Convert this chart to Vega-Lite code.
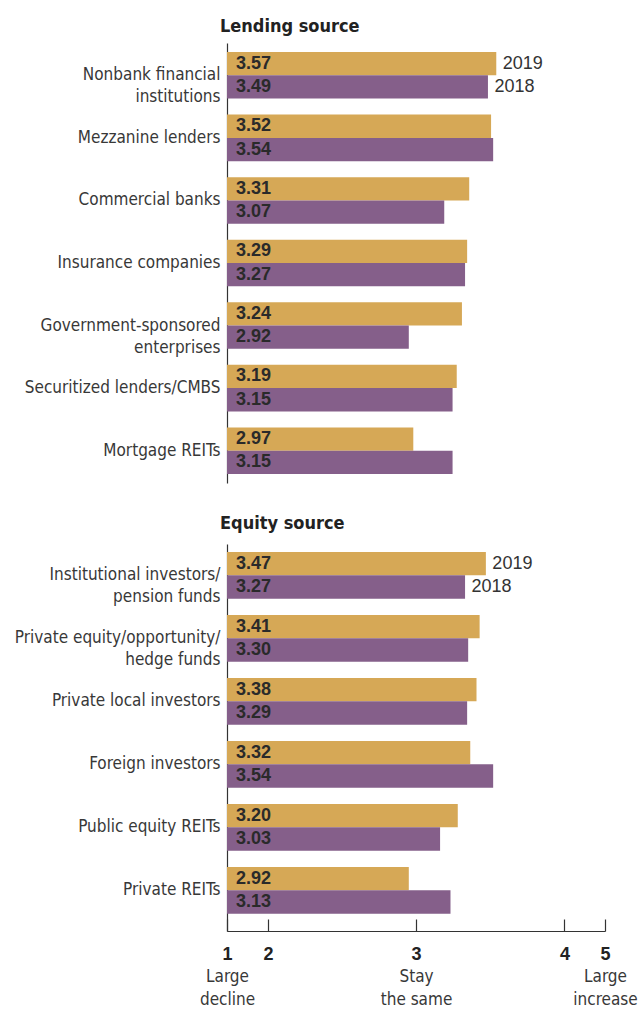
{
  "$schema": "https://vega.github.io/schema/vega-lite/v6.json",
  "background": "white",
  "padding": {"left": 7, "top": 18, "right": 0, "bottom": 0},
  "data": {"values": [
    {"section": "Lending", "source": "Nonbank financial|institutions", "year": "2019", "value": 3.57},
    {"section": "Lending", "source": "Nonbank financial|institutions", "year": "2018", "value": 3.49},
    {"section": "Lending", "source": "Mezzanine lenders", "year": "2019", "value": 3.52},
    {"section": "Lending", "source": "Mezzanine lenders", "year": "2018", "value": 3.54},
    {"section": "Lending", "source": "Commercial banks", "year": "2019", "value": 3.31},
    {"section": "Lending", "source": "Commercial banks", "year": "2018", "value": 3.07},
    {"section": "Lending", "source": "Insurance companies", "year": "2019", "value": 3.29},
    {"section": "Lending", "source": "Insurance companies", "year": "2018", "value": 3.27},
    {"section": "Lending", "source": "Government-sponsored|enterprises", "year": "2019", "value": 3.24},
    {"section": "Lending", "source": "Government-sponsored|enterprises", "year": "2018", "value": 2.92},
    {"section": "Lending", "source": "Securitized lenders/CMBS", "year": "2019", "value": 3.19},
    {"section": "Lending", "source": "Securitized lenders/CMBS", "year": "2018", "value": 3.15},
    {"section": "Lending", "source": "Mortgage REITs", "year": "2019", "value": 2.97},
    {"section": "Lending", "source": "Mortgage REITs", "year": "2018", "value": 3.15},
    {"section": "Equity", "source": "Institutional investors/|pension funds", "year": "2019", "value": 3.47},
    {"section": "Equity", "source": "Institutional investors/|pension funds", "year": "2018", "value": 3.27},
    {"section": "Equity", "source": "Private equity/opportunity/|hedge funds", "year": "2019", "value": 3.41},
    {"section": "Equity", "source": "Private equity/opportunity/|hedge funds", "year": "2018", "value": 3.30},
    {"section": "Equity", "source": "Private local investors", "year": "2019", "value": 3.38},
    {"section": "Equity", "source": "Private local investors", "year": "2018", "value": 3.29},
    {"section": "Equity", "source": "Foreign investors", "year": "2019", "value": 3.32},
    {"section": "Equity", "source": "Foreign investors", "year": "2018", "value": 3.54},
    {"section": "Equity", "source": "Public equity REITs", "year": "2019", "value": 3.20},
    {"section": "Equity", "source": "Public equity REITs", "year": "2018", "value": 3.03},
    {"section": "Equity", "source": "Private REITs", "year": "2019", "value": 2.92},
    {"section": "Equity", "source": "Private REITs", "year": "2018", "value": 3.13}
  ]},
  "config": {
    "view": {"stroke": null},
    "font": "DejaVu Sans Condensed, Roboto, sans-serif",
    "title": {"font": "DejaVu Sans Condensed, Roboto, sans-serif", "fontSize": 18, "fontWeight": "bold", "color": "#222222", "anchor": "start", "frame": "group", "align": "right", "dx": -7, "baseline": "alphabetic"},
    "axisY": {"ticks": false, "domain": true, "domainColor": "#333333", "domainWidth": 1.2, "labelFont": "DejaVu Sans Condensed, Roboto, sans-serif", "labelFontSize": 17, "labelColor": "#383838", "labelLineHeight": 22, "labelPadding": 7, "labelLimit": 400, "minExtent": 220, "maxExtent": 220, "labelBaseline": "middle"}
  },
  "spacing": 32,
  "vconcat": [
    {
      "title": {"text": "Lending source", "offset": 7},
      "width": 378,
      "height": 440,
      "transform": [{"filter": "datum.section == 'Lending'"}],
      "encoding": {
        "y": {"field": "source", "type": "nominal", "sort": null, "title": null, "scale": {"paddingInner": 0.255, "paddingOuter": 0.144}, "axis": {"labelExpr": "split(datum.label, '|')"}},
        "yOffset": {"field": "year", "type": "nominal", "sort": ["2019", "2018"], "scale": {"paddingInner": 0, "paddingOuter": 0}}
      },
      "layer": [
        {
          "mark": {"type": "bar"},
          "encoding": {
            "x": {"field": "value", "type": "quantitative", "axis": null, "scale": {"domain": [1, 2, 2.9, 3, 3.01, 3.6, 4, 5], "range": [0, 41, 180, 189, 211, 272.4, 337.4, 378], "zero": false, "nice": false}},
            "x2": {"datum": 1},
            "color": {"field": "year", "type": "nominal", "scale": {"domain": ["2019", "2018"], "range": ["#D6A856", "#855F8A"]}, "legend": null}
          }
        },
        {
          "mark": {"type": "text", "align": "left", "baseline": "middle", "dx": 9, "font": "Liberation Sans", "fontWeight": "bold", "fontSize": 18, "color": "#2a2a2a"},
          "encoding": {
            "x": {"datum": 1, "type": "quantitative", "axis": null},
            "text": {"field": "value", "type": "quantitative", "format": ".2f"}
          }
        },
        {
          "transform": [{"filter": "datum.source == 'Nonbank financial|institutions'"}],
          "mark": {"type": "text", "align": "left", "baseline": "middle", "dx": 6.5, "font": "Liberation Sans", "fontSize": 18, "color": "#333333"},
          "encoding": {
            "x": {"field": "value", "type": "quantitative", "axis": null},
            "text": {"field": "year", "type": "nominal"}
          }
        }
      ]
    },
    {
      "title": {"text": "Equity source", "offset": 11},
      "width": 378,
      "height": 387,
      "transform": [{"filter": "datum.section == 'Equity'"}],
      "encoding": {
        "y": {"field": "source", "type": "nominal", "sort": null, "title": null, "scale": {"paddingInner": 0.255, "paddingOuter": 0.199, "align": 0.32}, "axis": {"labelExpr": "split(datum.label, '|')"}},
        "yOffset": {"field": "year", "type": "nominal", "sort": ["2019", "2018"], "scale": {"paddingInner": 0, "paddingOuter": 0}}
      },
      "resolve": {"axis": {"x": "independent"}},
      "layer": [
        {
          "mark": {"type": "bar"},
          "encoding": {
            "x": {"field": "value", "type": "quantitative", "scale": {"domain": [1, 2, 2.9, 3, 3.01, 3.6, 4, 5], "range": [0, 41, 180, 189, 211, 272.4, 337.4, 378], "zero": false, "nice": false},
              "axis": {"orient": "bottom", "values": [1, 2, 3, 4, 5], "format": "d", "title": null, "grid": false, "labelFont": "Liberation Sans", "labelFontWeight": "bold", "labelFontSize": 18, "labelColor": "#222222", "tickSize": -12, "tickColor": "#333333", "tickWidth": 1.2, "domainColor": "#333333", "domainWidth": 1.2, "labelPadding": 26.5, "labelBaseline": "top", "labelFlush": false, "labelOverlap": false}},
            "x2": {"datum": 1},
            "color": {"field": "year", "type": "nominal", "scale": {"domain": ["2019", "2018"], "range": ["#D6A856", "#855F8A"]}, "legend": null}
          }
        },
        {
          "mark": {"type": "text", "align": "left", "baseline": "middle", "dx": 9, "font": "Liberation Sans", "fontWeight": "bold", "fontSize": 18, "color": "#2a2a2a"},
          "encoding": {
            "x": {"datum": 1, "type": "quantitative", "axis": null},
            "text": {"field": "value", "type": "quantitative", "format": ".2f"}
          }
        },
        {
          "transform": [{"filter": "datum.source == 'Institutional investors/|pension funds'"}],
          "mark": {"type": "text", "align": "left", "baseline": "middle", "dx": 6.5, "font": "Liberation Sans", "fontSize": 18, "color": "#333333"},
          "encoding": {
            "x": {"field": "value", "type": "quantitative",
              "axis": {"orient": "bottom", "values": [1, 3, 5], "title": null, "grid": false, "domain": false, "ticks": false, "labelExpr": "datum.value == 1 ? ['Large', 'decline'] : datum.value == 3 ? ['Stay', 'the same'] : datum.value == 5 ? ['Large', 'increase'] : ''", "labelFont": "DejaVu Sans Condensed, Roboto, sans-serif", "labelFontSize": 17, "labelColor": "#383838", "labelLineHeight": 23, "labelPadding": 37.5, "labelBaseline": "top", "labelFlush": false, "labelOverlap": false}},
            "text": {"field": "year", "type": "nominal"}
          }
        }
      ]
    }
  ]
}
